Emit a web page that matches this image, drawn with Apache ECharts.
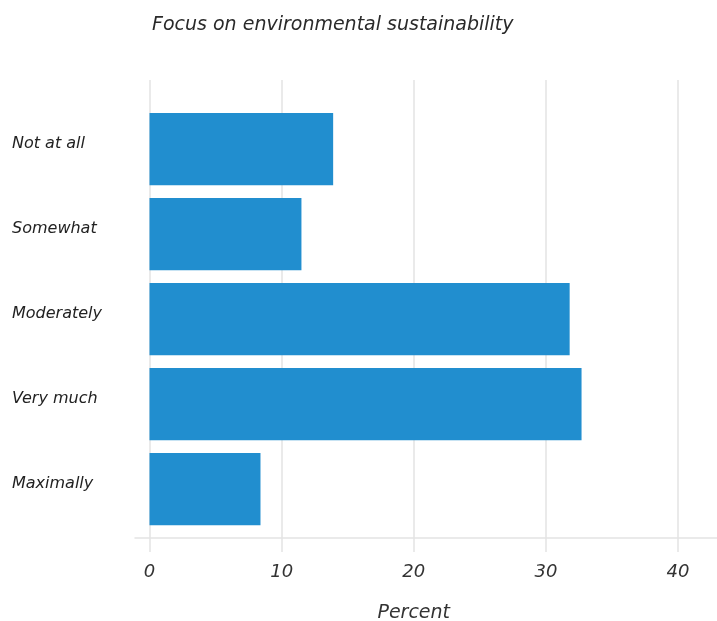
<!DOCTYPE html>
<html>
<head>
<meta charset="utf-8">
<script src="https://cdn.jsdelivr.net/npm/echarts@6/dist/echarts.min.js"></script>
<style>
  html, body { margin: 0; padding: 0; background: #fff; }
  #chart { width: 717px; height: 621px; }
</style>
</head>
<body>
<div id="chart"></div>
<script>
// Survey answers and the share of respondents (percent) for each
const categories = ['Not at all', 'Somewhat', 'Moderately', 'Very much', 'Maximally'];
const percents = [13.9, 11.5, 31.8, 32.7, 8.4];
const xTicks = [0, 10, 20, 30, 40];

const FONT = '"DejaVu Sans"';
const GRID_COLOR = '#e3e3e3';
const BAR_COLOR = '#218ecf';

const chart = echarts.init(document.getElementById('chart'), null, { renderer: 'canvas' });

chart.setOption({
  backgroundColor: '#ffffff',
  animation: false,
  title: {
    text: 'Focus on environmental sustainability',
    left: 147,
    top: 11,
    textStyle: { fontFamily: FONT, fontStyle: 'italic', fontWeight: 'normal', fontSize: 19, color: '#2a2a2a' }
  },
  grid: [
    // bars
    { left: 149.5, right: 39, top: 106.5, bottom: 89.5, outerBoundsMode: 'none' },
    // vertical grid lines and tick labels
    { left: 149.5, right: 39, top: 80, bottom: 69, outerBoundsMode: 'none' },
    // baseline
    { left: 135, right: 0, top: 80, bottom: 83, outerBoundsMode: 'none' }
  ],
  xAxis: [
    { gridIndex: 0, type: 'value', min: xTicks[0], max: xTicks[xTicks.length - 1], show: false },
    {
      gridIndex: 1, type: 'value',
      min: xTicks[0], max: xTicks[xTicks.length - 1], interval: xTicks[1] - xTicks[0],
      axisLine: { show: false }, axisTick: { show: false },
      splitLine: { show: true, lineStyle: { color: GRID_COLOR, width: 1.5 } },
      axisLabel: { margin: 11, fontFamily: FONT, fontStyle: 'italic', fontSize: 18, color: '#333' },
      name: 'Percent', nameLocation: 'middle', nameGap: 52,
      nameTextStyle: { fontFamily: FONT, fontStyle: 'italic', fontSize: 19, color: '#333' }
    },
    {
      gridIndex: 2, type: 'value', min: 0, max: 1,
      axisLine: { show: true, lineStyle: { color: GRID_COLOR, width: 1.5 } },
      axisTick: { show: false }, axisLabel: { show: false }, splitLine: { show: false }
    }
  ],
  yAxis: [
    {
      gridIndex: 0, type: 'category', data: categories, inverse: true,
      axisLine: { show: false }, axisTick: { show: false },
      axisLabel: {
        align: 'left', margin: 137.5, verticalAlign: 'bottom', lineHeight: 10,
        fontFamily: FONT, fontStyle: 'italic', fontSize: 16, color: '#222'
      }
    },
    { gridIndex: 1, type: 'value', show: false },
    { gridIndex: 2, type: 'value', show: false }
  ],
  series: [{
    type: 'bar',
    xAxisIndex: 0, yAxisIndex: 0,
    data: percents,
    barCategoryGap: '15%',
    itemStyle: { color: BAR_COLOR }
  }]
});
</script>
</body>
</html>
